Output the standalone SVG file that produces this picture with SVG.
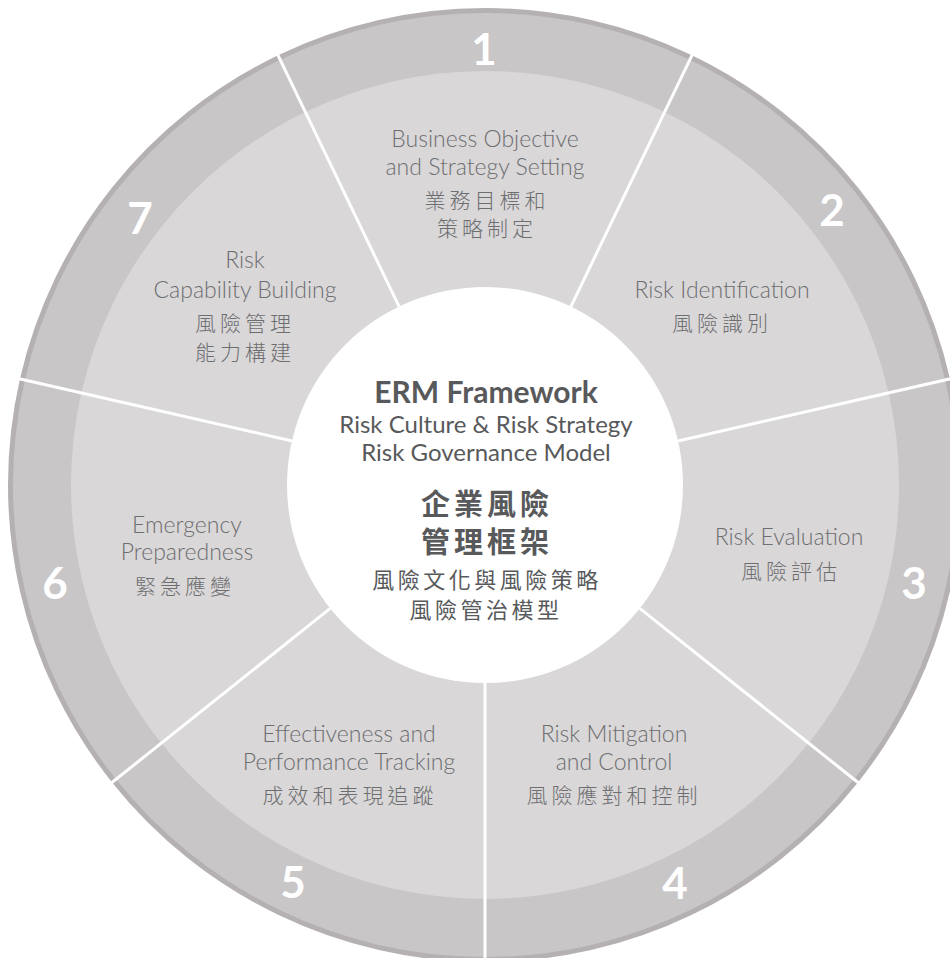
<svg xmlns="http://www.w3.org/2000/svg" xmlns:xlink="http://www.w3.org/1999/xlink" width="950" height="958" viewBox="0 0 950 958">
<style>
.rim{fill:#b5b1b3}
.band{fill:#c9c6c7}
.inner{fill:#d9d7d8}
.num{font-family:Lato,"Liberation Sans",sans-serif;font-weight:700;font-size:44px;fill:#ffffff;text-anchor:middle}
.en{font-family:Lato,"Liberation Sans",sans-serif;font-weight:300;font-size:23px;fill:#6d6e70;text-anchor:middle}
.zh{font-family:"Noto Sans CJK TC","Noto Sans CJK SC",sans-serif;font-weight:300;font-size:21px;letter-spacing:4px;fill:#6d6e70;text-anchor:middle}
.ttl{font-family:Lato,"Liberation Sans",sans-serif;font-weight:700;font-size:30px;fill:#58595b;text-anchor:middle}
.sub{font-family:Lato,"Liberation Sans",sans-serif;font-weight:400;font-size:24px;fill:#58595b;text-anchor:middle}
.zhttl{font-family:"Noto Sans CJK TC","Noto Sans CJK SC",sans-serif;font-weight:700;font-size:29px;letter-spacing:4px;fill:#58595b;text-anchor:middle}
.zhsub{font-family:"Noto Sans CJK TC","Noto Sans CJK SC",sans-serif;font-weight:400;font-size:22px;letter-spacing:3.5px;fill:#58595b;text-anchor:middle}
.div{stroke:#ffffff;stroke-width:3;fill:none}
</style>
<defs>
<path id="wRim" class="rim" d="M485,485 L278.04,55.24 A477,477 0 0 1 691.96,55.24 Z"/>
<path id="wBand" class="band" d="M485,485 L280.21,59.74 A472,472 0 0 1 689.79,59.74 Z"/>
<path id="wInner" class="inner" d="M485,485 L305.37,112 A414,414 0 0 1 664.63,112 Z"/>
</defs>
<rect width="950" height="958" fill="#ffffff"/>

<g id="seg1">
<use xlink:href="#wRim"/><use xlink:href="#wBand"/><use xlink:href="#wInner"/>
<text class="num" x="484" y="65">1</text>
<text class="en" x="485" y="147">Business Objective</text>
<text class="en" x="485" y="175">and Strategy Setting</text>
<text class="zh" x="487" y="208">業務目標和</text>
<text class="zh" x="487" y="236">策略制定</text>
</g>
<g id="seg2">
<g transform="rotate(51.4286 485 485)"><use xlink:href="#wRim"/><use xlink:href="#wBand"/><use xlink:href="#wInner"/></g>
<text class="num" x="832" y="226">2</text>
<text class="en" x="722" y="298">Risk Identification</text>
<text class="zh" x="722" y="331">風險識別</text>
</g>
<g id="seg3">
<g transform="rotate(102.857 485 485)"><use xlink:href="#wRim"/><use xlink:href="#wBand"/><use xlink:href="#wInner"/></g>
<text class="num" x="914" y="599">3</text>
<text class="en" x="789" y="545">Risk Evaluation</text>
<text class="zh" x="791" y="579">風險評估</text>
</g>
<g id="seg4">
<g transform="rotate(154.286 485 485)"><use xlink:href="#wRim"/><use xlink:href="#wBand"/><use xlink:href="#wInner"/></g>
<text class="num" x="675" y="899">4</text>
<text class="en" x="614" y="742">Risk Mitigation</text>
<text class="en" x="614" y="770">and Control</text>
<text class="zh" x="614" y="803">風險應對和控制</text>
</g>
<g id="seg5">
<g transform="rotate(205.714 485 485)"><use xlink:href="#wRim"/><use xlink:href="#wBand"/><use xlink:href="#wInner"/></g>
<text class="num" x="293" y="898">5</text>
<text class="en" x="349" y="742">Effectiveness and</text>
<text class="en" x="349" y="770">Performance Tracking</text>
<text class="zh" x="350" y="803">成效和表現追蹤</text>
</g>
<g id="seg6">
<g transform="rotate(257.143 485 485)"><use xlink:href="#wRim"/><use xlink:href="#wBand"/><use xlink:href="#wInner"/></g>
<text class="num" x="55" y="599">6</text>
<text class="en" x="187" y="533">Emergency</text>
<text class="en" x="187" y="560">Preparedness</text>
<text class="zh" x="185" y="594">緊急應變</text>
</g>
<g id="seg7">
<g transform="rotate(308.571 485 485)"><use xlink:href="#wRim"/><use xlink:href="#wBand"/><use xlink:href="#wInner"/></g>
<text class="num" x="140" y="234">7</text>
<text class="en" x="245" y="268">Risk</text>
<text class="en" x="245" y="298">Capability Building</text>
<text class="zh" x="245" y="331">風險管理</text>
<text class="zh" x="245" y="360">能力構建</text>
</g>

<g id="connectors">
<line class="div" x1="399.09" y1="306.61" x2="276.74" y2="52.53"/>
<line class="div" x1="570.91" y1="306.61" x2="693.26" y2="52.53"/>
<line class="div" x1="678.04" y1="440.94" x2="952.97" y2="378.19"/>
<line class="div" x1="639.80" y1="608.45" x2="860.28" y2="784.28"/>
<line class="div" x1="485" y1="683" x2="485" y2="965"/>
<line class="div" x1="330.20" y1="608.45" x2="109.72" y2="784.28"/>
<line class="div" x1="291.96" y1="440.94" x2="17.03" y2="378.19"/>
</g>

<g id="center">
<circle cx="485" cy="485" r="198" fill="#ffffff"/>
<text class="ttl" x="486" y="403">ERM Framework</text>
<text class="sub" x="486" y="433">Risk Culture &amp; Risk Strategy</text>
<text class="sub" x="486" y="461">Risk Governance Model</text>
<text class="zhttl" x="487" y="515">企業風險</text>
<text class="zhttl" x="487" y="553">管理框架</text>
<text class="zhsub" x="487" y="588">風險文化與風險策略</text>
<text class="zhsub" x="486" y="618">風險管治模型</text>
</g>
</svg>
